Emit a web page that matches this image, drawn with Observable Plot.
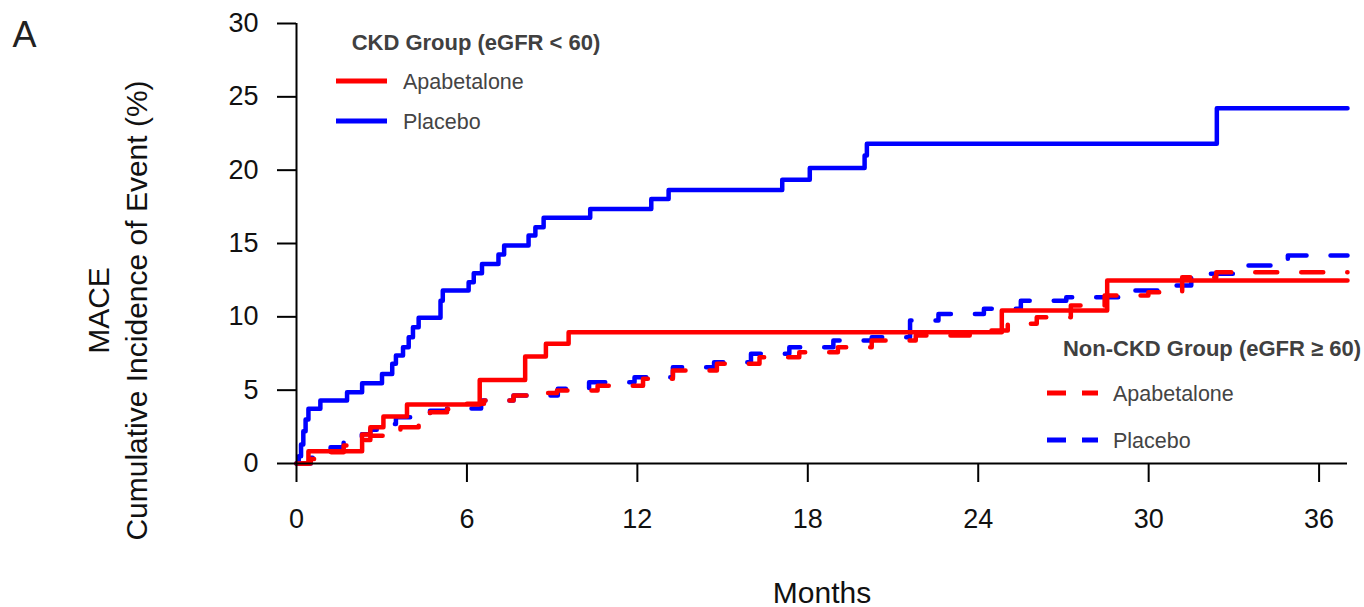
<!DOCTYPE html>
<html>
<head>
<meta charset="utf-8">
<script src="https://cdn.jsdelivr.net/npm/d3@7"></script>
<script src="https://cdn.jsdelivr.net/npm/@observablehq/plot@0.6"></script>
<style>
html, body { margin: 0; padding: 0; background: #fff; }
#chart { width: 1364px; height: 607px; }
</style>
</head>
<body>
<div id="chart"></div>
<script>
// ---- tick labels ----
const xTicks = [0, 6, 12, 18, 24, 30, 36];
const yTicks = [0, 5, 10, 15, 20, 25, 30];

// ---- CKD group (eGFR < 60), placebo ----
const ckdPlaceboMonths = [0, 0.08, 0.16, 0.24, 0.32, 0.42, 0.84, 1.78, 2.31, 3.01, 3.37, 3.5, 3.75, 3.95, 4.1, 4.3, 5.07, 5.15, 6.06, 6.24, 6.53, 7.11, 7.31, 8.17, 8.41, 8.7, 10.34, 12.49, 13.1, 17.1, 18.07, 20.0, 20.08, 32.4, 37];
const ckdPlaceboPct    = [0, 0.5, 1.3, 2.2, 3.0, 3.73, 4.3, 4.86, 5.47, 6.11, 6.8, 7.36, 7.93, 8.6, 9.29, 9.93, 11.1, 11.8, 12.36, 12.97, 13.6, 14.25, 14.86, 15.54, 16.1, 16.75, 17.36, 18.04, 18.65, 19.34, 20.15, 21.0, 21.8, 24.22, 24.22];

// ---- CKD group, apabetalone ----
const ckdApabMonths = [0, 0.42, 2.31, 2.6, 3.06, 3.89, 6.45, 8.05, 8.78, 9.58, 24.83, 28.54, 37];
const ckdApabPct    = [0, 0.84, 1.98, 2.48, 3.2, 4.02, 5.7, 7.29, 8.16, 8.95, 10.43, 12.47, 12.47];

// ---- Non-CKD group (eGFR >= 60), apabetalone ----
const nonCkdApabMonths = [0, 0.5, 1.2, 1.66, 2.3, 2.6, 3.3, 3.66, 4.3, 4.7, 5.3, 6.0, 6.6, 7.64, 8.4, 9.17, 10.6, 12.2, 13.25, 14.8, 16.3, 17.7, 19.06, 20.25, 21.8, 23.7, 25.04, 26.06, 27.26, 28.45, 29.99, 31.18, 32.38, 37];
const nonCkdApabPct    = [0, 0.3, 0.77, 1.23, 1.6, 1.9, 2.2, 2.48, 3.0, 3.5, 3.7, 4.07, 4.3, 4.64, 4.8, 4.98, 5.3, 5.77, 6.34, 6.8, 7.25, 7.59, 7.93, 8.38, 8.73, 9.07, 9.52, 9.97, 10.77, 11.45, 11.68, 12.7, 13.04, 13.04];

// ---- Non-CKD group, placebo ----
const nonCkdPlaceboMonths = [0, 0.5, 1.2, 1.66, 2.3, 2.6, 3.0, 3.5, 4.7, 5.3, 6.5, 7.64, 9.2, 10.3, 11.9, 13.25, 14.7, 16.0, 17.35, 18.9, 20.25, 21.6, 22.6, 24.2, 25.5, 27.1, 28.96, 30.33, 31.5, 33.06, 34.9, 37];
const nonCkdPlaceboPct    = [0, 0.4, 1.1, 1.57, 2.0, 2.3, 2.7, 3.16, 3.6, 3.75, 4.3, 4.64, 5.09, 5.54, 5.88, 6.57, 6.9, 7.48, 7.93, 8.38, 8.61, 9.75, 10.2, 10.55, 11.1, 11.34, 11.8, 12.13, 12.93, 13.5, 14.18, 14.18];

// ---- legend / labels text ----
const groupTitles = ["CKD Group (eGFR < 60)", "Non-CKD Group (eGFR \u2265 60)"];
const armNames = ["Apabetalone", "Placebo"];
const panelLetter = "A";
const xLabel = "Months";
const yLabel = "MACE\nCumulative Incidence of Event (%)";

const RED = "#ff0000", BLUE = "#0000ff";
const FONT = "'Liberation Sans', Arial, Helvetica, sans-serif";

const rows = (months, pct) => months.map((m, i) => ({month: m, pct: pct[i]}));

const lineOpts = {x: "month", y: "pct", curve: "step-after", strokeWidth: 4.5};
const dashed = {strokeDasharray: "22,24", strokeLinecap: "round"};

const plot = Plot.plot({
  width: 1364,
  height: 607,
  marginLeft: 296,
  marginRight: 17,
  marginTop: 23,
  marginBottom: 144,
  x: {domain: [0, 37]},
  y: {domain: [0, 30]},
  style: {fontFamily: FONT, fontSize: "27px", color: "#111", background: "#fff", overflow: "visible"},
  marks: [
    Plot.line(rows(nonCkdPlaceboMonths, nonCkdPlaceboPct), {...lineOpts, ...dashed, stroke: BLUE}),
    Plot.line(rows(nonCkdApabMonths, nonCkdApabPct), {...lineOpts, ...dashed, stroke: RED}),
    Plot.line(rows(ckdPlaceboMonths, ckdPlaceboPct), {...lineOpts, stroke: BLUE}),
    Plot.line(rows(ckdApabMonths, ckdApabPct), {...lineOpts, stroke: RED}),
    Plot.ruleY([0], {stroke: "#000", strokeWidth: 2}),
    Plot.ruleX([0], {stroke: "#000", strokeWidth: 2}),
    Plot.axisX({ticks: xTicks, tickSize: 19, tickPadding: 26, label: null, strokeWidth: 2, stroke: "#000", fontSize: 27}),
    Plot.axisY({ticks: yTicks, tickSize: 19, tickPadding: 19, label: null, strokeWidth: 2, stroke: "#000", fontSize: 27}),
    Plot.text([yLabel], {frameAnchor: "top-left", dx: -180.5, dy: 287, rotate: -90, fontSize: 30, lineHeight: 1.27, textAnchor: "middle", lineAnchor: "middle", fill: "#111"}),
    Plot.text([xLabel], {frameAnchor: "bottom", dy: 130, fontSize: 30, lineAnchor: "middle", fill: "#111"}),
    Plot.text([panelLetter], {frameAnchor: "top-left", dx: -284, dy: 12, fontSize: 36, textAnchor: "start", lineAnchor: "middle", fill: "#222"})
  ]
});

// ---- legends (drawn on top of the plot's svg) ----
const svg = d3.select(plot);
const leg = svg.append("g").attr("font-family", FONT).attr("text-anchor", "start");

const legends = [
  {title: groupTitles[0], cx: 476, ty: 50, x0: 336, x1: 387, tx: 403, ys: [81, 121], dash: null},
  {title: groupTitles[1], cx: 1212, ty: 356, x0: 1047, x1: 1098, tx: 1113, ys: [393, 440], dash: "19,16"}
];
const armColors = [RED, BLUE];

legends.forEach(L => {
  leg.append("text")
    .attr("x", L.cx).attr("y", L.ty)
    .attr("text-anchor", "middle")
    .attr("font-size", 22).attr("font-weight", "bold")
    .attr("fill", "#404040")
    .text(L.title);
  armNames.forEach((name, i) => {
    const ln = leg.append("line")
      .attr("x1", L.x0).attr("x2", L.x1)
      .attr("y1", L.ys[i]).attr("y2", L.ys[i])
      .attr("stroke", armColors[i]).attr("stroke-width", 5);
    if (L.dash) ln.attr("stroke-dasharray", L.dash);
    leg.append("text")
      .attr("x", L.tx).attr("y", L.ys[i] + 7.5)
      .attr("text-anchor", "start")
      .attr("font-size", 21.5)
      .attr("fill", "#444")
      .text(name);
  });
});

document.getElementById("chart").appendChild(plot);
</script>
</body>
</html>
